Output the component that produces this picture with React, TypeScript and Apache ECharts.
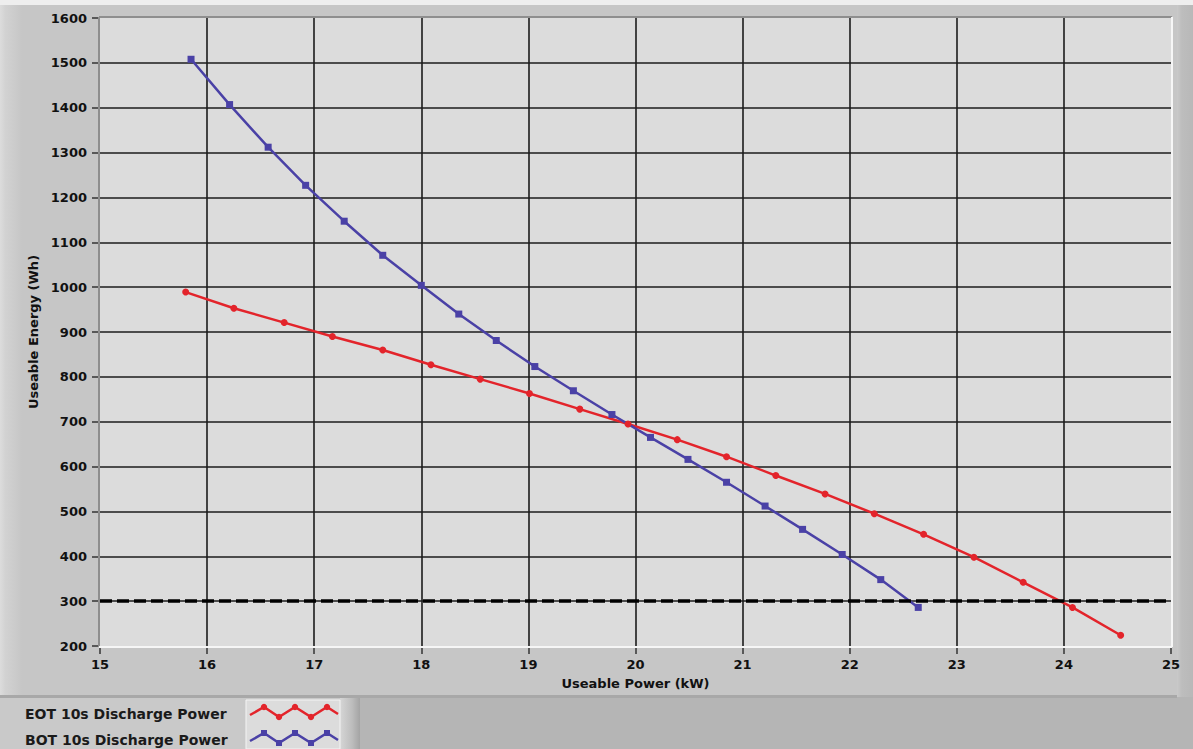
import React, { useEffect, useRef } from "react";
import * as echarts from "echarts";

// ---- data ----
const eotPower = [15.8, 16.25, 16.72, 17.17, 17.64, 18.09, 18.55, 19.01, 19.48, 19.93, 20.39, 20.85, 21.31, 21.77, 22.23, 22.69, 23.16, 23.62, 24.08, 24.53];
const eotEnergy = [989, 953, 921, 890, 860, 827, 795, 763, 728, 695, 660, 622, 580, 539, 495, 449, 398, 342, 286, 224];
const botPower = [15.85, 16.21, 16.57, 16.92, 17.28, 17.64, 18.0, 18.35, 18.7, 19.06, 19.42, 19.78, 20.14, 20.49, 20.85, 21.21, 21.56, 21.93, 22.29, 22.64];
const botEnergy = [1508, 1407, 1312, 1227, 1147, 1071, 1004, 940, 881, 823, 769, 716, 665, 616, 565, 512, 460, 404, 348, 286];
const thresholdEnergy = 300;
const seriesNames = ["EOT 10s Discharge Power", "BOT 10s Discharge Power"];
const xAxisName = "Useable Power (kW)";
const yAxisName = "Useable Energy (Wh)";
const xMin = 15, xMax = 25, xStep = 1;
const yMin = 200, yMax = 1600, yStep = 100;

const RED = "#e3242b";
const BLUE = "#4a41a6";
const FONT = "'DejaVu Sans', Verdana, sans-serif";

const W = 1193, H = 749;
const G = { left: 100, top: 18, right: 1171, bottom: 646 };

export default function App() {
  const ref = useRef<HTMLDivElement>(null);
  useEffect(() => {
    if (!ref.current) return;
    const chart = echarts.init(ref.current, undefined, { renderer: "svg" });
    const zig = (y0: number) => [
      [250, y0 + 8], [264, y0], [279, y0 + 10], [295, y0], [311, y0 + 10], [327, y0], [338, y0 + 7],
    ];
    const legendGlyph = (y0: number, color: string, square: boolean) => {
      const pts = zig(y0);
      const els: any[] = [
        { type: "polyline", shape: { points: pts }, style: { stroke: color, lineWidth: 2.5, fill: "none" }, z: 3 },
      ];
      pts.slice(1, 6).forEach((p) => {
        els.push(
          square
            ? { type: "rect", shape: { x: p[0] - 3, y: p[1] - 3, width: 6, height: 6 }, style: { fill: color }, z: 3 }
            : { type: "circle", shape: { cx: p[0], cy: p[1], r: 3.2 }, style: { fill: color }, z: 3 }
        );
      });
      return els;
    };
    const tickLabel = (v: number) => String(v);
    const option: any = {
      animation: false,
      backgroundColor: "#b5b5b5",
      grid: {
        left: G.left, top: G.top, width: G.right - G.left, height: G.bottom - G.top,
        show: true, backgroundColor: "#dcdcdc", borderWidth: 0, containLabel: false,
      },
      xAxis: {
        type: "value", min: xMin, max: xMax, interval: xStep,
        name: xAxisName, nameLocation: "middle", nameGap: 31,
        nameTextStyle: { fontFamily: FONT, fontWeight: "bold", fontSize: 13, color: "#111" },
        axisLine: { show: false },
        axisTick: { show: true, length: 8, lineStyle: { color: "#333", width: 1.5 } },
        axisLabel: { fontFamily: FONT, fontWeight: "bold", fontSize: 13, color: "#111", margin: 12, formatter: tickLabel },
        splitLine: { show: true, showMinLine: false, showMaxLine: false, lineStyle: { color: "#1c1c1c", width: 1.6 } },
      },
      yAxis: {
        type: "value", min: yMin, max: yMax, interval: yStep,
        name: yAxisName, nameLocation: "middle", nameGap: 54, nameRotate: 90,
        nameTextStyle: { fontFamily: FONT, fontWeight: "bold", fontSize: 13, color: "#111" },
        axisLine: { show: false },
        axisTick: { show: true, length: 8, lineStyle: { color: "#333", width: 1.5 } },
        axisLabel: { fontFamily: FONT, fontWeight: "bold", fontSize: 13, color: "#111", margin: 13, formatter: tickLabel },
        splitLine: { show: true, showMinLine: false, showMaxLine: false, lineStyle: { color: "#1c1c1c", width: 1.6 } },
      },
      series: [
        {
          name: seriesNames[0], type: "line",
          data: eotPower.map((x, i) => [x, eotEnergy[i]]),
          symbol: "circle", symbolSize: 7, showAllSymbol: true,
          lineStyle: { color: RED, width: 2.5 }, itemStyle: { color: RED },
          z: 3,
        },
        {
          name: seriesNames[1], type: "line",
          data: botPower.map((x, i) => [x, botEnergy[i]]),
          symbol: "rect", symbolSize: 7, showAllSymbol: true,
          lineStyle: { color: BLUE, width: 2.5 }, itemStyle: { color: BLUE },
          z: 3,
        },
        {
          name: "threshold", type: "line", data: [], z: 4,
          markLine: {
            silent: true, symbol: ["none", "none"], label: { show: false },
            lineStyle: { color: "#000", width: 3.5, type: [12, 5] },
            data: [{ yAxis: thresholdEnergy }],
          },
        },
      ],
      graphic: [
        // outer frame pieces
        { type: "rect", shape: { x: 0, y: 0, width: W, height: 5 }, style: { fill: "#eeeeee" }, z: -10 },
        { type: "rect", shape: { x: 0, y: 5, width: 1177, height: 692 }, style: { fill: "#c6c6c6" }, z: -9 },
        {
          type: "rect", shape: { x: 0, y: 5, width: 22, height: 692 }, z: -8,
          style: { fill: new echarts.graphic.LinearGradient(0, 0, 1, 0, [
            { offset: 0, color: "#dcdcdc" }, { offset: 0.25, color: "#d2d2d2" }, { offset: 1, color: "#c6c6c6" },
          ]) },
        },
        { type: "rect", shape: { x: 0, y: 695, width: 1177, height: 3 }, style: { fill: "#a8a8a8" }, z: -8 },
        {
          type: "rect", shape: { x: 1177, y: 5, width: 16, height: 692 }, z: -8,
          style: { fill: new echarts.graphic.LinearGradient(0, 0, 1, 0, [
            { offset: 0, color: "#c9c9c9" }, { offset: 0.3, color: "#bdbdbd" }, { offset: 1, color: "#b8b8b8" },
          ]) },
        },
        // legend panel
        { type: "rect", shape: { x: 0, y: 698, width: 342, height: 51 }, style: { fill: "#c9c9c9" }, z: -8 },
        {
          type: "rect", shape: { x: 340, y: 698, width: 20, height: 51 }, z: -8,
          style: { fill: new echarts.graphic.LinearGradient(0, 0, 1, 0, [
            { offset: 0, color: "#d6d6d6" }, { offset: 0.6, color: "#bdbdbd" }, { offset: 1, color: "#a4a4a4" },
          ]) },
        },
        { type: "rect", shape: { x: 246, y: 700, width: 94, height: 49 }, style: { fill: "#dcdcdc", stroke: "#f4f4f4", lineWidth: 1 }, z: -7 },
        // plot area bevel
        { type: "line", shape: { x1: G.left - 1, y1: G.top - 1, x2: G.right + 1, y2: G.top - 1 }, style: { stroke: "#8e8e8e", lineWidth: 2 }, z: 5 },
        { type: "line", shape: { x1: G.left - 1, y1: G.top - 1, x2: G.left - 1, y2: G.bottom + 1 }, style: { stroke: "#8e8e8e", lineWidth: 2 }, z: 5 },
        { type: "line", shape: { x1: G.left - 1, y1: G.bottom + 1, x2: G.right + 1, y2: G.bottom + 1 }, style: { stroke: "#f6f6f6", lineWidth: 2 }, z: 5 },
        { type: "line", shape: { x1: G.right + 1, y1: G.top - 1, x2: G.right + 1, y2: G.bottom + 1 }, style: { stroke: "#f6f6f6", lineWidth: 2 }, z: 5 },
        // legend texts
        {
          type: "text", x: 25, y: 714, z: 3,
          style: { text: seriesNames[0], fontFamily: FONT, fontSize: 14, fontWeight: "bold", fill: "#1a1a1a", verticalAlign: "middle" },
        },
        {
          type: "text", x: 25, y: 740, z: 3,
          style: { text: seriesNames[1], fontFamily: FONT, fontSize: 14, fontWeight: "bold", fill: "#1a1a1a", verticalAlign: "middle" },
        },
        ...legendGlyph(707, RED, false),
        ...legendGlyph(733, BLUE, true),
      ],
    };
    chart.setOption(option);
    return () => chart.dispose();
  }, []);
  return (
    <div
      ref={ref}
      style={{ position: "absolute", left: 0, top: 0, width: W, height: H }}
    />
  );
}
